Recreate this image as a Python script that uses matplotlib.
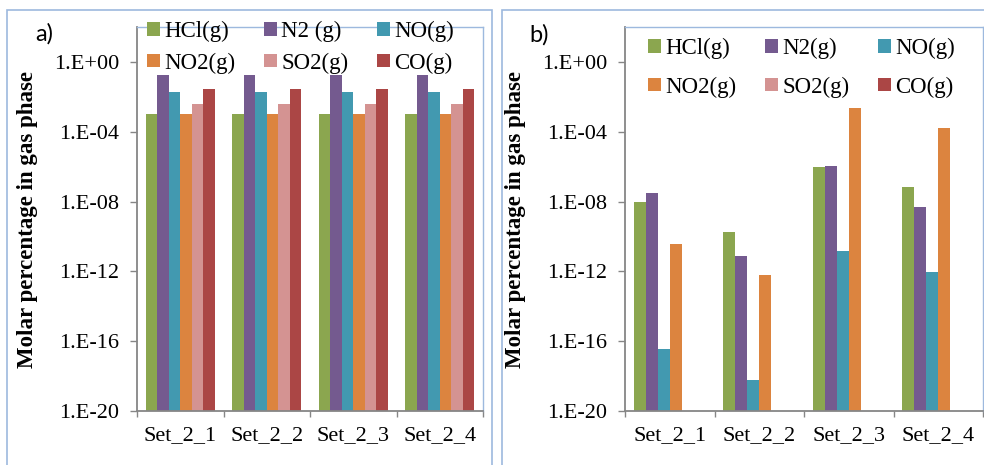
import numpy as np
import matplotlib
matplotlib.use("Agg")
import matplotlib.pyplot as plt
from matplotlib.patches import Rectangle, Patch
from matplotlib.ticker import FixedLocator, FuncFormatter, NullFormatter

# ---------------------------------------------------------------------
# Data (molar fraction in gas phase)
# ---------------------------------------------------------------------
sets = ["Set_2_1", "Set_2_2", "Set_2_3", "Set_2_4"]
species_a = ["HCl(g)", "N2 (g)", "NO(g)", "NO2(g)", "SO2(g)", "CO(g)"]
species_b = ["HCl(g)", "N2(g)", "NO(g)", "NO2(g)", "SO2(g)", "CO(g)"]
colors = ["#8BA64F", "#745A8F", "#4299B0", "#DC843F", "#D49392", "#AB4645"]

# panel a) -- identical for all four sets
hcl_a = [1.0e-3, 1.0e-3, 1.0e-3, 1.0e-3]
n2_a = [0.18, 0.18, 0.18, 0.18]
no_a = [0.018, 0.018, 0.018, 0.018]
no2_a = [1.0e-3, 1.0e-3, 1.0e-3, 1.0e-3]
so2_a = [3.8e-3, 3.8e-3, 3.8e-3, 3.8e-3]
co_a = [0.027, 0.027, 0.027, 0.027]

# panel b) -- SO2 and CO not present
hcl_b = [1.0e-8, 1.7e-10, 9.6e-7, 6.9e-8]
n2_b = [3.2e-8, 7.3e-12, 1.05e-6, 5.1e-9]
no_b = [3.4e-17, 5.7e-19, 1.4e-11, 9.7e-13]
no2_b = [3.9e-11, 6.5e-13, 2.4e-3, 1.7e-4]
so2_b = [np.nan, np.nan, np.nan, np.nan]
co_b = [np.nan, np.nan, np.nan, np.nan]

y_ticks = [1e-20, 1e-16, 1e-12, 1e-8, 1e-4, 1e0]

AXIS_GRAY = "#868686"
FRAME_BLUE = "#9DB9DE"
W, H = 984, 465


def px(x0, y0, x1, y1):
    """figure rect from pixel box (top-left origin)"""
    return [x0 / W, 1 - y1 / H, (x1 - x0) / W, (y1 - y0) / H]


def draw_panel(ax, series, names, leg_anchor, labelspacing):
    x = np.arange(len(sets))
    n = len(series)
    width = 0.8 / n
    for i, (vals, color) in enumerate(zip(series, colors)):
        ax.bar(x - 0.4 + width * (i + 0.5), vals, width, color=color,
               edgecolor="none", bottom=0)
    ax.set_yscale("log")
    ax.set_ylim(1e-20, 1e2)
    ax.set_xlim(-0.5, len(sets) - 0.5)

    ax.yaxis.set_major_locator(FixedLocator(y_ticks))
    ax.yaxis.set_major_formatter(FuncFormatter(lambda v, p: "1.E%+03d" % round(np.log10(v))))
    ax.yaxis.set_minor_locator(FixedLocator([]))
    ax.tick_params(axis="y", which="major", direction="out", length=5,
                   width=1, color=AXIS_GRAY, pad=8, labelsize=16)

    # category labels on minor ticks, tick marks at boundaries
    ax.xaxis.set_major_locator(FixedLocator(np.arange(len(sets) + 1) - 0.5))
    ax.xaxis.set_major_formatter(NullFormatter())
    ax.xaxis.set_minor_locator(FixedLocator(x))
    ax.set_xticks(x, sets, minor=True)
    ax.tick_params(axis="x", which="major", direction="out", length=4.5,
                   width=1, color=AXIS_GRAY)
    ax.tick_params(axis="x", which="minor", length=0, pad=11, labelsize=16)

    for s in ("left", "bottom"):
        ax.spines[s].set_color(AXIS_GRAY)
        ax.spines[s].set_linewidth(1.3)
    for s in ("top", "right"):
        ax.spines[s].set_color(FRAME_BLUE)
        ax.spines[s].set_linewidth(1.0)

    # legend: 2 rows x 3 columns, row-major order
    handles = [Patch(facecolor=c, edgecolor="none") for c in colors]
    order = [0, 3, 1, 4, 2, 5]
    ax.legend([handles[i] for i in order], [names[i] for i in order],
              ncol=3, loc="upper left", frameon=False,
              bbox_to_anchor=(leg_anchor[0] / W, 1 - leg_anchor[1] / H),
              bbox_transform=ax.figure.transFigure,
              fontsize=16.5, handlelength=0.55, handleheight=0.55,
              handletextpad=0.2, columnspacing=1.25,
              labelspacing=labelspacing, borderpad=0, borderaxespad=0)


plt.rcParams["font.family"] = ["Liberation Serif", "DejaVu Serif"]

fig = plt.figure(figsize=(W / 100, H / 100), dpi=100)

# outer chart-area frames
fig.patches.append(Rectangle((7 / W, -0.1), (492 - 7) / W, 1.1 - 10 / H,
                             transform=fig.transFigure, fill=False,
                             edgecolor=FRAME_BLUE, linewidth=1.2))
fig.patches.append(Rectangle((502 / W, -0.1), 0.6, 1.1 - 10 / H,
                             transform=fig.transFigure, fill=False,
                             edgecolor=FRAME_BLUE, linewidth=1.2))

ax_a = fig.add_axes(px(137, 27, 483, 411))
draw_panel(ax_a, [hcl_a, n2_a, no_a, no2_a, so2_a, co_a], species_a, (147, 21), 0.45)

ax_b = fig.add_axes(px(625, 27, 983, 411))
draw_panel(ax_b, [hcl_b, n2_b, no_b, no2_b, so2_b, co_b], species_b, (648, 38), 0.75)

for xc in (28, 516):
    fig.text(xc / W, 1 - 219 / H, "Molar percentage in gas phase", rotation=90,
             ha="center", va="center", fontsize=16.5, fontweight="bold")

fig.text(44 / W, 1 - 34 / H, "a)", ha="center", va="center", fontsize=17,
         family=["Lato", "DejaVu Sans"])
fig.text(539 / W, 1 - 35 / H, "b)", ha="center", va="center", fontsize=17,
         family=["Lato", "DejaVu Sans"])

fig.savefig("out.png", dpi=100)
